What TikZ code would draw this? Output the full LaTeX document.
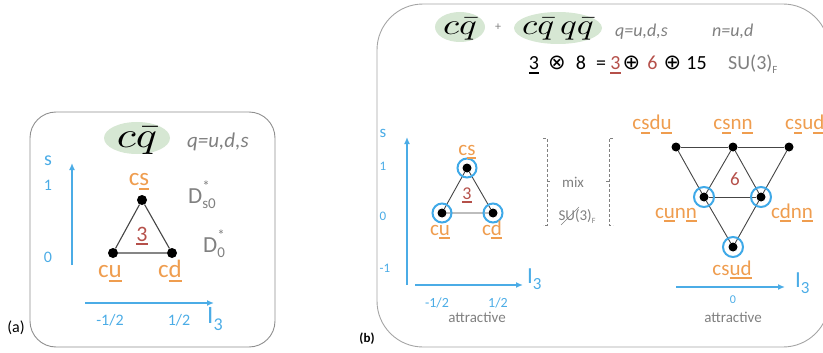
\documentclass[tikz,border=0pt]{standalone}
\usepackage{fontspec}
\setmainfont{Carlito}
\newfontfamily\dejavu{DejaVu Sans}
\usetikzlibrary{arrows.meta}
\definecolor{orng}{HTML}{EF9D4F}
\definecolor{axblue}{HTML}{4BACE6}
\definecolor{ringblue}{HTML}{3FA9E8}
\definecolor{dred}{HTML}{B5504A}
\definecolor{lgreen}{HTML}{D6E7D3}
\definecolor{txtgray}{HTML}{808080}
\definecolor{edgegray}{HTML}{454545}
\definecolor{boxgray}{HTML}{8F8F8F}
\newcommand\fs[1]{\fontsize{#1}{#1}\selectfont}
\newcommand\ulx[1]{\setbox0\hbox{#1}\rlap{\rule[-0.2em]{\wd0}{0.09em}}\box0}
\newcommand\Ithree[2]{I\raisebox{-0.3em}{\fs{#2}3}}
\newcommand\bigmath[3]{\fontsize{10}{10}\selectfont\scalebox{#1}[#2]{$#3$}}
\begin{document}
\begin{tikzpicture}[x=1pt,y=-1pt,
  lbl/.style={text=orng,inner sep=0,anchor=base},
  axl/.style={text=axblue,inner sep=0,anchor=base},
  gtx/.style={text=txtgray,inner sep=0,anchor=base},
  btx/.style={text=black,inner sep=0,anchor=base},
  axis/.style={draw=axblue,line width=1.6pt,-{Latex[length=7pt,width=6pt]}},
  dota/.style={circle,fill=black,inner sep=0,minimum size=10pt},
  dotb/.style={circle,fill=black,inner sep=0,minimum size=9pt},
  ring/.style={circle,draw=ringblue,line width=2pt,inner sep=0,minimum size=19pt},
  edge/.style={draw=edgegray,line width=1.1pt},
  panel/.style={draw=boxgray,line width=0.9pt},
  brk/.style={draw=txtgray,line width=0.7pt,dashed,dash pattern=on 3pt off 2pt}
]
\useasboundingbox (0,0) rectangle (823,353);
% ---------------- panel (a)
\draw[panel,rounded corners=26pt] (30,112) rectangle (275,347);
\node[btx,font=\fs{16}] (alab) at (16,332) {(a)};
\fill[lgreen] (137,138) ellipse [x radius=33pt,y radius=16pt];
\node[btx] (acq) at (137,147) {\bigmath{4.4}{3.6}{c\bar{q}}};
\node[gtx,font=\fs{21}\itshape,anchor=base west] (aq) at (187,147) {q=u,d,s};
% axes
\coordinate (avs) at (72,265); \coordinate (ave) at (72,163);
\draw[axis] (avs) -- (ave);
\coordinate (ahs) at (85,303); \coordinate (ahe) at (214,303);
\draw[axis] (ahs) -- (ahe);
\node[axl,font=\fs{20}] (as) at (48,165) {s};
\node[axl,font=\fs{16}] (a1) at (48,190) {1};
\node[axl,font=\fs{16}] (a0) at (48,262) {0};
\node[axl,font=\fs{16}] (am) at (110,325) {-1/2};
\node[axl,font=\fs{16}] (ap) at (179,325) {1/2};
\node[axl,font=\fs{25},anchor=base west] (aI) at (207,323) {\Ithree{}{18}};
% triangle
\node[dota] (at) at (142,200) {};
\node[dota] (al) at (113,253) {};
\node[dota] (ar) at (172,253) {};
\draw[edge] (at) -- (al) -- (ar) -- (at);
\node[lbl,font=\fs{25}] (lcs) at (139,185) {c\ulx{s}};
\node[lbl,font=\fs{25}] (lcu) at (110,277) {c\ulx{u}};
\node[lbl,font=\fs{25}] (lcd) at (170,277) {c\ulx{d}};
\node[btx,text=dred,font=\fs{22}] (a3) at (142,241) {\ulx{3}};
\node[gtx,font=\fs{23},anchor=base west] (ds) at (188,203) {D\rlap{\raisebox{0.5em}{\fs{15}*}}\raisebox{-0.25em}{\fs{15}s0}};
\node[gtx,font=\fs{23},anchor=base west] (d0) at (203,252) {D\rlap{\raisebox{0.5em}{\fs{15}*}}\raisebox{-0.25em}{\fs{15}0}};
% ---------------- panel (b)
\draw[panel,draw=boxgray!80,rounded corners=46pt] (377,4) rectangle (829,347);
\node[btx,font=\fs{13}\bfseries] (blab) at (367,342) {(b)};
\fill[lgreen] (460,27) ellipse [x radius=25pt,y radius=15pt];
\node[btx] (bcq) at (460,35) {\bigmath{3.7}{2.9}{c\bar{q}}};
\node[gtx,font=\fs{12}] (plus) at (498,31) {+};
\fill[lgreen] (558,28) ellipse [x radius=44pt,y radius=16pt];
\node[btx] (bcqqq) at (558,35) {\bigmath{3.5}{2.9}{c\bar{q}\,q\bar{q}}};
\node[gtx,font=\fs{18}\itshape,anchor=base west] (bq) at (615,37) {q=u,d,s};
\node[gtx,font=\fs{18}\itshape,anchor=base west] (bn) at (712,37) {n=u,d};
% equation
\begin{scope}[every node/.append style={font=\fs{20}}]
\node[btx] (e1) at (534,70) {\ulx{3}};
\node[btx] (e2) at (557,70) {{\dejavu\fs{21}⊗}};
\node[btx] (e3) at (581,70) {8};
\node[btx] (e4) at (601,70) {=};
\node[btx,text=dred] (e5) at (615.5,70) {\ulx{3}};
\node[btx] (e6) at (631.5,70) {{\dejavu\fs{21}⊕}};
\node[btx,text=dred] (e7) at (652.5,70) {6};
\node[btx] (e8) at (672.5,70) {{\dejavu\fs{21}⊕}};
\node[btx] (e9) at (696.5,70) {15};
\node[gtx,anchor=base west] (e10) at (728,70) {SU(3)\raisebox{-0.2em}{\fs{11}F}};
\end{scope}
% left diagram axes
\coordinate (bvs) at (407,285); \coordinate (bve) at (407,137);
\draw[axis] (bvs) -- (bve);
\coordinate (bhs) at (415,285); \coordinate (bhe) at (523,285);
\draw[axis] (bhs) -- (bhe);
\node[axl,font=\fs{17}] (bs) at (383,137) {s};
\node[axl,font=\fs{13}] (b1) at (383,170) {1};
\node[axl,font=\fs{13}] (b0) at (383,220) {0};
\node[axl,font=\fs{13}] (bm1) at (385,272) {-1};
\node[axl,font=\fs{23},anchor=base west] (bI) at (527,283) {\Ithree{}{17}};
\node[axl,font=\fs{14}] (bmh) at (437,307) {-1/2};
\node[axl,font=\fs{14}] (bph) at (498,307) {1/2};
\node[gtx,font=\fs{15}] (batt) at (477,322) {attractive};
% left triangle
\node[dotb] (bt) at (467,168) {};
\node[dotb] (bl) at (442,213) {};
\node[dotb] (br) at (493,213) {};
\draw[edge,line width=0.9pt] (bt) -- (bl) -- (br) -- (bt);
\node[ring] at (bt) {};
\node[ring] at (bl) {};
\node[ring] at (br) {};
\node[lbl,font=\fs{21}] (bcs) at (467,155) {c\ulx{s}};
\node[lbl,font=\fs{21}] (bcu) at (440,235) {c\ulx{u}};
\node[lbl,font=\fs{21}] (bcd) at (492,235) {c\ulx{d}};
\node[btx,text=dred,font=\fs{18}] (b3) at (467,199) {\ulx{3}};
% brackets
\draw[brk] (543,138) -- (547,138) -- (547,225) -- (543,225);
\draw[brk,solid] (547,181) -- (550,181);
\draw[brk] (613,138) -- (609,138) -- (609,225) -- (613,225);
\draw[brk,solid] (609,181) -- (606,181);
\node[gtx,font=\fs{15}] (mix) at (573,187) {mix};
\node[gtx,font=\fs{15}] (su) at (577,220) {SU(3)\raisebox{-0.2em}{\fs{8}F}};
\coordinate (sla) at (561,225); \coordinate (slb) at (579,207);
\draw[draw=txtgray,line width=0.6pt] (sla) -- (slb);
% right diagram
\node[dotb] (s1) at (676,147) {};
\node[dotb] (s2) at (733,147) {};
\node[dotb] (s3) at (789,147) {};
\node[dotb] (s4) at (704,197) {};
\node[dotb] (s5) at (761,197) {};
\node[dotb] (s6) at (733,247) {};
\draw[edge,line width=0.9pt] (s1) -- (s2) -- (s3);
\draw[edge,line width=0.9pt] (s4) -- (s5);
\draw[edge,line width=0.9pt] (s1) -- (s4) -- (s6);
\draw[edge,line width=0.9pt] (s3) -- (s5) -- (s6);
\draw[edge,line width=0.9pt] (s2) -- (s4);
\draw[edge,line width=0.9pt] (s2) -- (s5);
\node[ring,minimum size=20pt] at (s4) {};
\node[ring,minimum size=20pt] at (s5) {};
\node[ring,minimum size=20pt] at (s6) {};
\node[btx,text=dred,font=\fs{19}] (six) at (735,185) {6};
\node[lbl,font=\fs{21}] (l1) at (652,130) {c\ulx{s}d\ulx{u}};
\node[lbl,font=\fs{21}] (l2) at (733,130) {c\ulx{s}n\ulx{n}};
\node[lbl,font=\fs{21},anchor=base west] (l3) at (785,130) {c\ulx{s}u\ulx{d}};
\node[lbl,font=\fs{21}] (l4) at (676,218) {c\ulx{u}n\ulx{n}};
\node[lbl,font=\fs{21}] (l5) at (792,218) {c\ulx{d}n\ulx{n}};
\node[lbl,font=\fs{21}] (l6) at (732,275) {cs\ulx{u}\ulx{d}};
\coordinate (chs) at (676,287); \coordinate (che) at (785,287);
\draw[axis] (chs) -- (che);
\node[axl,font=\fs{23},anchor=base west] (cI) at (795,287) {\Ithree{}{17}};
\node[axl,font=\fs{12}] (c0) at (733,303) {0};
\node[gtx,font=\fs{15}] (catt) at (733,322) {attractive};
\end{tikzpicture}
\end{document}
